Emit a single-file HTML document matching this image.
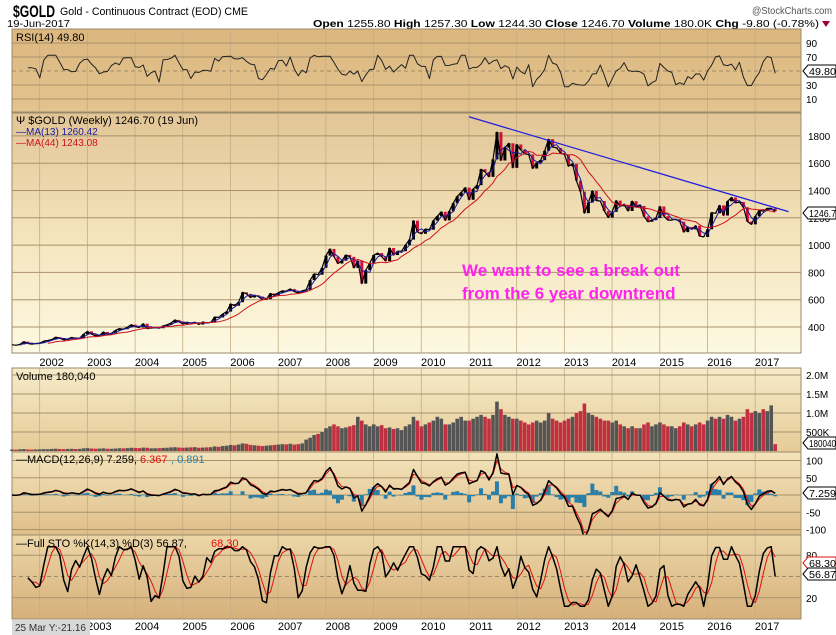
<!DOCTYPE html>
<html><head><meta charset="utf-8">
<style>
html,body{margin:0;padding:0;background:#fff;width:836px;height:635px;overflow:hidden}
svg{display:block;font-family:"Liberation Sans",Arial,sans-serif}
</style></head>
<body>
<svg id="c" width="836" height="635" viewBox="0 0 836 635">
<defs>
<linearGradient id="gRsi" x1="0" y1="0" x2="0" y2="1"><stop offset="0" stop-color="#dcb77f"/><stop offset="1" stop-color="#e3c48f"/></linearGradient>
<linearGradient id="gMain" x1="0" y1="0" x2="0" y2="1"><stop offset="0" stop-color="#e2c596"/><stop offset="0.55" stop-color="#f5e6bf"/><stop offset="1" stop-color="#fdf9e2"/></linearGradient>
<linearGradient id="gVol" x1="0" y1="0" x2="0" y2="1"><stop offset="0" stop-color="#f6ebc9"/><stop offset="1" stop-color="#e6cb97"/></linearGradient>
<linearGradient id="gMacd" x1="0" y1="0" x2="0" y2="1"><stop offset="0" stop-color="#f3e3bb"/><stop offset="1" stop-color="#dfbf8a"/></linearGradient>
<linearGradient id="gSto" x1="0" y1="0" x2="0" y2="1"><stop offset="0" stop-color="#ecd6a8"/><stop offset="1" stop-color="#d6b07a"/></linearGradient>
</defs>
<text x="13" y="17" font-size="17" font-weight="bold" fill="#000" textLength="42" lengthAdjust="spacingAndGlyphs">$GOLD</text>
<text x="60" y="15" font-size="11" fill="#000" textLength="188" lengthAdjust="spacingAndGlyphs">Gold - Continuous Contract (EOD) CME</text>
<text x="7" y="27" font-size="10" fill="#000" textLength="63" lengthAdjust="spacingAndGlyphs">19-Jun-2017</text>
<text x="832" y="14" font-size="10" fill="#555" text-anchor="end" textLength="80" lengthAdjust="spacingAndGlyphs">@StockCharts.com</text>
<text x="313" y="27" font-size="10" fill="#000" textLength="506" lengthAdjust="spacingAndGlyphs"><tspan font-weight="bold">Open</tspan> 1255.80 <tspan font-weight="bold">High</tspan> 1257.30 <tspan font-weight="bold">Low</tspan> 1244.30 <tspan font-weight="bold">Close</tspan> 1246.70 <tspan font-weight="bold">Volume</tspan> 180.0K <tspan font-weight="bold">Chg</tspan> -9.80 (-0.78%)</text>
<path d="M822 21 L830 21 L826 27 Z" fill="#a00030"/>
<g id="panels"></g>
</svg>
<script>
// ---- data: monthly closes Jun 2001 .. Jun 2017 ----
const startYear = 2001.42;
const closes = [270,266,273,293,279,275,279,
282,297,301,308,326,318,305,312,324,317,318,347,
368,348,335,337,364,346,354,375,388,384,398,417,
402,396,424,388,394,395,391,408,416,429,452,438,
422,435,428,435,418,437,430,434,473,470,495,513,
569,556,582,654,643,616,633,623,600,604,646,632,
651,665,662,679,659,650,665,673,743,789,783,834,
923,972,916,865,886,928,914,833,884,718,816,869,
927,942,916,883,979,927,955,955,1001,1040,1179,1096,
1083,1118,1113,1179,1212,1244,1181,1248,1307,1357,1386,1421,
1332,1410,1439,1556,1536,1500,1628,1828,1620,1714,1746,1566,
1737,1697,1669,1664,1561,1604,1622,1691,1776,1719,1712,1675,
1663,1578,1595,1472,1392,1234,1312,1396,1326,1323,1250,1202,
1244,1326,1284,1295,1250,1322,1282,1287,1210,1171,1183,1199,
1283,1212,1183,1183,1190,1172,1095,1133,1115,1142,1065,1060,
1116,1238,1233,1291,1217,1321,1349,1309,1316,1277,1173,1152,
1211,1254,1249,1269,1269,1247];
const volumes = [40,35,45,50,40,38,42,
45,50,48,55,60,52,50,55,58,52,55,70,
75,65,60,62,70,60,58,65,72,70,75,85,
80,75,90,85,70,72,75,80,85,95,100,90,
85,90,95,100,85,90,95,100,120,110,130,140,
160,150,170,200,190,160,150,140,130,140,150,160,
170,180,175,190,170,180,200,300,350,420,450,500,
600,650,700,650,600,620,650,680,900,800,700,650,
700,650,680,600,620,580,600,550,650,700,900,800,
650,700,750,800,900,850,700,700,750,850,900,800,
800,850,900,950,900,850,950,1300,1100,950,900,850,
850,800,750,700,750,800,750,800,1000,850,800,750,
800,850,900,1000,1050,1250,1000,950,900,850,800,800,
750,800,700,650,600,650,600,600,700,750,650,700,
750,700,650,650,600,650,750,700,650,700,750,700,
800,900,850,900,850,950,900,800,850,900,1100,1000,
1050,1000,1100,1050,1200,180];
const yearLabels = ["2002","2003","2004","2005","2006","2007","2008","2009","2010","2011","2012","2013","2014","2015","2016","2017"];
const priceTicks = [400,600,800,1000,1200,1400,1600,1800];
const rsiTicks = [10,30,70,90];
const volTicks = [500,1000,1500,2000];
const volTickLabels = ["500K","1.0M","1.5M","2.0M"];
const macdTicks = [-100,-50,0,50,100];
const stoTicks = [20,80];
const trendStart = [2011.0, 1940];
const trendEnd = [2017.7, 1245];

// ---- layout ----
const X0=12, X1=801, PPY=47.7;
const xOf = t => X0 + (t-startYear)*PPY;
const xi = i => xOf(startYear + i/12);
const P = {rsi:[29,112], main:[113,353], vol:[368,452], macd:[452,535], sto:[535,619]};
const yPrice = p => 327 - (p-400)*0.1365;
const yRsi = v => 99 - (v-10)*0.7;
const yVol = v => 451 - v*0.038;
const yMacd = v => 495 - v*0.345;
const ySto = v => 612 - v*0.71;

const NS="http://www.w3.org/2000/svg";
const root=document.getElementById('panels');
function mk(tag,attrs,parent){const e=document.createElementNS(NS,tag);for(const k in attrs)e.setAttribute(k,attrs[k]);(parent||root).appendChild(e);return e;}
function poly(vals,yf,color,w,name){
  let d='';vals.forEach((v,i)=>{if(v==null)return;d+=(d?'L':'M')+xi(i).toFixed(1)+' '+yf(v).toFixed(1);});
  const e=mk('path',{d:d,fill:'none',stroke:color,'stroke-width':w,'stroke-linejoin':'round'});
  
  
  return e;
}
function panel(key,fill,name){
  const [a,b]=P[key];
  const r=mk('rect',{x:X0,y:a,width:X1-X0,height:b-a,fill:fill,stroke:'#9a8a6a','stroke-width':1});
  
  
  yearLabels.forEach((y,k)=>{const x=xOf(2002+k);
    const g=mk('line',{x1:x,y1:a,x2:x,y2:b,stroke:'#c4ad84','stroke-width':0.8});
    
    });
}
function hgrid(key,yv,dash){
  const l=mk('line',{x1:X0,y1:yv,x2:X1,y2:yv,stroke:dash?'#8a7a5a':'#a8926c','stroke-width':dash?0.8:1,'stroke-dasharray':dash?'4,3':'none'});
  
  
}
function label(x,y,txt,opt,name){
  const t=mk('text',Object.assign({x:x,y:y,'font-size':10,fill:'#000'},opt||{}));
  t.textContent=txt;
  
  
  return t;
}
function tag(y,txt,color,name){
  const w=Math.min(27, txt.length*5+4);
  const p=mk('path',{d:`M803 ${y} L808 ${y-6} L836 ${y-6} L836 ${y+6} L808 ${y+6} Z`,fill:'#fff',stroke:color,'stroke-width':1});
  
  
  label(809,y+4,txt,{fill:'#000','font-size':10,textLength:w,lengthAdjust:'spacingAndGlyphs'},name);
}
// indicators
function ema(a,n){const k=2/(n+1);const o=[];a.forEach((v,i)=>o.push(i?o[i-1]+k*(v-o[i-1]):v));return o;}
function sma(a,n){return a.map((v,i)=>{if(i<n-1)return null;let s=0;for(let j=i-n+1;j<=i;j++)s+=a[j];return s/n;});}
const ma13=sma(closes,3), ma44=sma(closes,10);
const rsi=closes.map((v,i)=>{if(i<4)return null;let g=0,l=0;for(let j=i-3;j<=i;j++){const d=closes[j]-closes[j-1];if(d>0)g+=d;else l-=d;}const r=l===0?100:100-100/(1+g/l);return 50+(r-50)*0.45;});
const e3=ema(closes,3), e6=ema(closes,6);
const macd=e3.map((v,i)=>(v-e6[i])*1.3);
const sig=ema(macd,2);
const hist=macd.map((v,i)=>v-sig[i]);
const rawK=closes.map((v,i)=>{if(i<4)return null;const w=closes.slice(i-4,i+1);const hi=Math.max(...w),lo=Math.min(...w);return hi===lo?50:(v-lo)/(hi-lo)*100;});
const stoK=rawK.map((v,i)=>(v==null||rawK[i-1]==null)?v:8+0.84*(v+rawK[i-1])/2);
const stoD=stoK.map((v,i)=>(v==null||stoK[i-1]==null||stoK[i-2]==null)?v:(v+stoK[i-1]+stoK[i-2])/3);

// ---- RSI panel ----
panel('rsi','url(#gRsi)','rsi-panel');
rsiTicks.forEach(v=>{hgrid('rsi',yRsi(v),false);label(806,yRsi(v)+4,String(v),{},'rsi-tick-label');});
hgrid('rsi',yRsi(50),true);
poly(rsi,yRsi,'#222',1,'rsi-line');
label(16,41,'RSI(14) 49.80',{'font-size':11},'rsi-legend');
tag(71,'49.80','#000','rsi-value-tag');

// ---- Main price panel ----
panel('main','url(#gMain)','price-panel');
priceTicks.forEach(v=>{hgrid('main',yPrice(v),false);label(808,yPrice(v)+4,String(v),{},'price-tick-label');});
closes.forEach((v,i)=>{if(!i)return;const up=v>=closes[i-1];
  const b=mk('line',{x1:xi(i),y1:yPrice(closes[i-1]),x2:xi(i),y2:yPrice(v),stroke:up?'#000':'#d0103a','stroke-width':3});
  
  });
poly(closes,yPrice,'#000',1.2,'price-line');
poly(ma13,yPrice,'#1a1aa0',1,'ma13-line');
poly(ma44,yPrice,'#d01020',1,'ma44-line');
const tl=mk('line',{x1:xOf(trendStart[0]),y1:yPrice(trendStart[1]),x2:xOf(trendEnd[0]),y2:yPrice(trendEnd[1]),stroke:'#2020e0','stroke-width':1.3});


label(16,124,'\u03A8 $GOLD (Weekly) 1246.70 (19 Jun)',{'font-size':11},'price-legend');
label(16,135,'\u2014MA(13) 1260.42',{'font-size':10,fill:'#1a1aa0'},'ma13-legend');
label(16,146,'\u2014MA(44) 1243.08',{'font-size':10,fill:'#d01020'},'ma44-legend');
label(462,276,'We want to see a break out',{'font-size':17,'font-weight':'bold',fill:'#ff22ee'},'annotation-line1');
label(462,299,'from the 6 year downtrend',{'font-size':17,'font-weight':'bold',fill:'#ff22ee'},'annotation-line2');
tag(213,'1246.7','#000','price-value-tag');
yearLabels.forEach((y,k)=>label(xOf(2002+k)+12,366,y,{'text-anchor':'middle','font-size':11},'x-axis-year-top'));

// ---- Volume ----
panel('vol','url(#gVol)','volume-panel');
volTicks.forEach((v,k)=>{hgrid('vol',yVol(v),false);label(806,yVol(v)+4,volTickLabels[k],{},'volume-tick-label');});
volumes.forEach((v,i)=>{const up=i===0||closes[i]>=closes[i-1];
  const r=mk('rect',{x:xi(i)-1.8,y:yVol(v),width:3.6,height:451-yVol(v),fill:up?'#555':'#c03040'});
  
  });
label(16,380,'Volume 180,040',{'font-size':11},'volume-legend');
tag(443,'180040','#000','volume-value-tag');

// ---- MACD ----
panel('macd','url(#gMacd)','macd-panel');
macdTicks.forEach(v=>{hgrid('macd',yMacd(v),false);label(806,yMacd(v)+4,String(v),{},'macd-tick-label');});
hist.forEach((v,i)=>{const y0=yMacd(0),y1=yMacd(v*2);
  const r=mk('rect',{x:xi(i)-2,y:Math.min(y0,y1),width:4,height:Math.abs(y1-y0),fill:'#2a7fa8'});
  
  });
poly(sig,yMacd,'#e01010',1,'macd-signal-line');
poly(macd,yMacd,'#000',1.5,'macd-line');
label(16,463,'\u2014MACD(12,26,9) 7.259,',{'font-size':11},'macd-legend');
label(140,463,'6.367',{'font-size':11,fill:'#e01010'},'macd-signal-legend');
label(171,463,', 0.891',{'font-size':11,fill:'#2a7fa8'},'macd-hist-legend');
tag(493,'7.259','#000','macd-value-tag');

// ---- STO ----
panel('sto','url(#gSto)','stochastic-panel');
stoTicks.forEach(v=>{hgrid('sto',ySto(v),false);label(806,ySto(v)+4,String(v),{},'sto-tick-label');});
hgrid('sto',ySto(50),true);
poly(stoD,ySto,'#e01010',1,'sto-d-line');
poly(stoK,ySto,'#000',1.5,'sto-k-line');
label(16,547,'\u2014Full STO %K(14,3) %D(3) 56.87,',{'font-size':11},'sto-legend');
label(211,547,'68.30',{'font-size':11,fill:'#e01010'},'sto-d-legend');
tag(563,'68.30','#e01010','sto-d-value-tag');
tag(574,'56.87','#000','sto-k-value-tag');
yearLabels.forEach((y,k)=>label(xOf(2002+k)+12,630,y,{'text-anchor':'middle','font-size':11},'x-axis-year-bottom'));
const cb=mk('rect',{x:12,y:620,width:78,height:15,fill:'#d8d8d8'});


label(15,631,'25 Mar Y:-21.16',{'font-size':10,fill:'#333'},'crosshair-readout');
</script>
</body></html>
